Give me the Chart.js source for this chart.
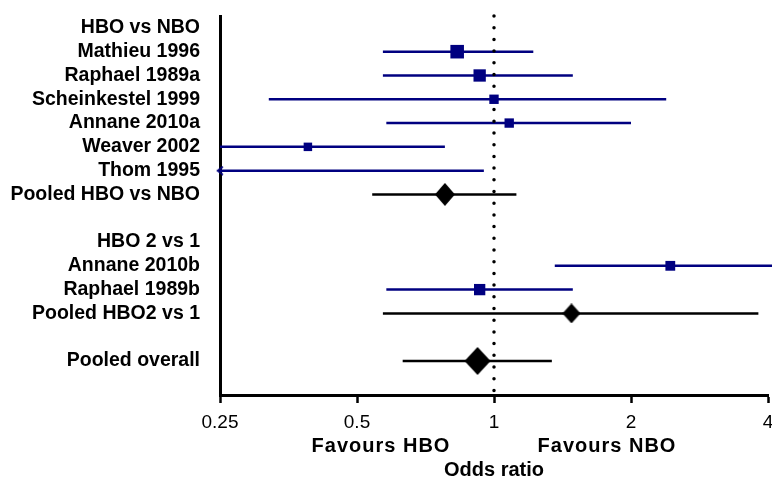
<!DOCTYPE html>
<html>
<head>
<meta charset="utf-8">
<script src="https://cdn.jsdelivr.net/npm/chart.js@4/dist/chart.umd.min.js"></script>
<style>
  html, body { margin: 0; padding: 0; background: #fff; }
  #wrap { width: 772px; height: 480px; }
</style>
</head>
<body>
<div id="wrap"><canvas id="forestChart"></canvas></div>
<script>
// rows top to bottom, '' = spacer row
const rowLabels = ['HBO vs NBO', 'Mathieu 1996', 'Raphael 1989a', 'Scheinkestel 1999', 'Annane 2010a',
  'Weaver 2002', 'Thom 1995', 'Pooled HBO vs NBO', '', 'HBO 2 vs 1', 'Annane 2010b', 'Raphael 1989b',
  'Pooled HBO2 vs 1', '', 'Pooled overall'];

// single studies
const studyRows = [1, 2, 3, 4, 5, 6, 10, 11];
const studyOR = [0.83, 0.93, 1.00, 1.08, 0.39, null, 2.44, 0.93];
const studyLow = [0.57, 0.57, 0.32, 0.58, 0.25, 0.2, 1.36, 0.58];
const studyHigh = [1.22, 1.49, 2.39, 2.00, 0.78, 0.95, 4.3, 1.49];
const studyWeight = [23, 19, 11, 11, 9, 5, 12, 16];

// pooled estimates
const pooledRows = [7, 12, 14];
const pooledOR = [0.78, 1.48, 0.92];
const pooledLow = [0.54, 0.57, 0.63];
const pooledHigh = [1.12, 3.81, 1.34];

const xTicks = [0.25, 0.5, 1, 2, 4];
const favourLabels = ['Favours HBO', 'Favours NBO'];

const NAVY = '#000080';
const FONT = '"Liberation Sans", Arial, sans-serif';
const diamondSize = [[20, 23], [18, 20], [26, 28]];
const xMin = xTicks[0], xMax = xTicks[xTicks.length - 1];
const yMin = -0.5, yMax = 15.43;

// small "<" used where a CI runs off the left of the axis
function leftArrow(color) {
    var c = document.createElement('canvas');
    c.width = 8; c.height = 10;
    var g = c.getContext('2d');
    g.strokeStyle = color;
    g.lineWidth = 1.6;
    g.beginPath();
    g.moveTo(7, 1); g.lineTo(1.5, 5); g.lineTo(7, 9);
    g.stroke();
    return c;
}

// pooled estimates are drawn as slightly tall diamonds
function diamond(w, h) {
    var c = document.createElement('canvas');
    c.width = w; c.height = h;
    var g = c.getContext('2d');
    g.fillStyle = '#000';
    g.beginPath();
    g.moveTo(w / 2, 0); g.lineTo(w, h / 2); g.lineTo(w / 2, h); g.lineTo(0, h / 2);
    g.closePath();
    g.fill();
    return c;
}

const arrow = leftArrow(NAVY);

const studyCI = studyRows.map((row, i) => {
    var off = studyLow[i] < xMin;
    return {
        data: [{x: off ? xMin : studyLow[i], y: row}, {x: studyHigh[i], y: row}],
        showLine: true,
        borderColor: NAVY,
        borderWidth: 2.5,
        pointRadius: [off ? 4 : 0, 0],
        pointStyle: [off ? arrow : 'circle', 'circle'],
        clip: {left: 8, right: 8, top: 8, bottom: 8},
        order: 2
    };
});

const pooledCI = pooledRows.map((row, i) => ({
    data: [{x: pooledLow[i], y: row}, {x: pooledHigh[i], y: row}],
    showLine: true,
    borderColor: '#000',
    borderWidth: 2.5,
    pointRadius: 0,
    order: 2
}));

const favoursPlugin = {
    id: 'favours',
    afterDraw(chart) {
        var ctx = chart.ctx;
        var mid = chart.scales.x.getPixelForValue(1);
        ctx.save();
        ctx.font = 'bold 20px ' + FONT;
        ctx.letterSpacing = '1px';
        ctx.fillStyle = '#000';
        ctx.textAlign = 'center';
        ctx.textBaseline = 'middle';
        ctx.fillText(favourLabels[0], mid - 113, chart.chartArea.bottom + 51);
        ctx.fillText(favourLabels[1], mid + 113, chart.chartArea.bottom + 51);
        ctx.restore();
    }
};

new Chart(document.getElementById('forestChart'), {
    type: 'scatter',
    data: {
        datasets: [
            {
                data: studyRows.map((row, i) => ({x: studyOR[i], y: row})),
                pointStyle: 'rect',
                pointRadius: studyWeight.map(w => 2 * Math.sqrt(w)),
                backgroundColor: NAVY,
                borderWidth: 0,
                order: 0
            },
            {
                data: pooledRows.map((row, i) => ({x: pooledOR[i], y: row})),
                pointStyle: diamondSize.map(d => diamond(d[0], d[1])),
                pointRadius: 10,
                order: 0
            },
            {
                data: [{x: 1, y: yMin}, {x: 1, y: yMax}],
                showLine: true,
                borderColor: '#000',
                borderWidth: 3.5,
                borderDash: [0, 11.7],
                borderCapStyle: 'round',
                pointRadius: 0,
                clip: false,
                order: 1
            }
        ].concat(studyCI, pooledCI)
    },
    options: {
        responsive: true,
        maintainAspectRatio: false,
        animation: false,
        events: [],
        layout: {autoPadding: false, padding: {top: 16, right: 0, bottom: 0, left: 0}},
        plugins: {legend: {display: false}, tooltip: {enabled: false}},
        scales: {
            x: {
                type: 'logarithmic',
                min: xMin,
                max: xMax,
                afterBuildTicks: s => { s.ticks = xTicks.map(v => ({value: v})); },
                afterFit: s => { s.height = 85; s.paddingLeft = 0; s.paddingRight = 4; },
                ticks: {
                    color: '#000',
                    font: {family: FONT, size: 19},
                    padding: 8,
                    maxRotation: 0,
                    autoSkip: false,
                    callback: v => String(v)
                },
                grid: {drawOnChartArea: false, drawTicks: true, tickLength: 8, tickWidth: 2.5, tickColor: '#000'},
                border: {display: true, color: '#000', width: 3},
                title: {
                    display: true,
                    text: 'Odds ratio',
                    color: '#000',
                    font: {family: FONT, size: 20, weight: 'bold'},
                    padding: {top: 0, bottom: -2}
                }
            },
            y: {
                type: 'linear',
                reverse: true,
                min: yMin,
                max: yMax,
                afterBuildTicks: s => { s.ticks = rowLabels.map((_, i) => ({value: i})); },
                afterFit: s => { s.width = 220; s.paddingTop = 0; s.paddingBottom = 0; },
                ticks: {
                    color: '#000',
                    font: {family: FONT, size: 19.5, weight: 'bold'},
                    padding: 12,
                    autoSkip: false,
                    callback: v => rowLabels[v]
                },
                grid: {display: false},
                border: {display: true, color: '#000', width: 3}
            }
        }
    },
    plugins: [favoursPlugin]
});
</script>
</body>
</html>
